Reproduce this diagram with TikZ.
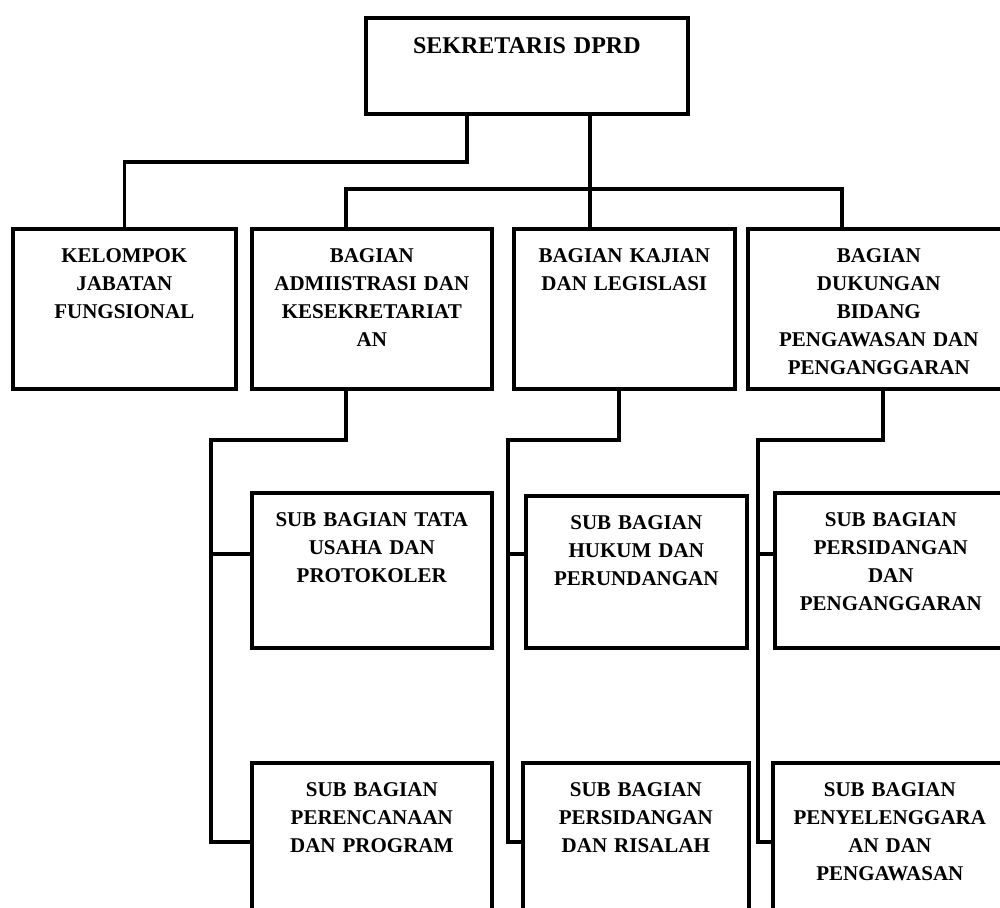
\documentclass[tikz,border=0pt]{standalone}
\usepackage{fontspec}
\setmainfont{Liberation Serif}
\usetikzlibrary{calc}
\tikzset{
  org/box/.style={draw, line width=1.8pt, anchor=north west, align=center,
    inner xsep=2pt, inner ysep=7pt, text height=10pt, text depth=#1,
    font=\fontsize{10.5}{14}\selectfont\bfseries},
  org/box/.default=56pt,
  org/line/.style={draw, line width=1.8pt}
}

\begin{document}
\begin{tikzpicture}[x=0.5pt, y=-0.5pt]
  \clip (0,0) rectangle (1000,907);

  % top and second level
  \node[org/box=23pt, text height=11pt, text width=157pt,
    font=\fontsize{12}{14}\selectfont\bfseries] (sek) at (364,16) {SEKRETARIS DPRD};
  \node[org/box, text width=107.5pt] (kjf) at (11,227) {KELOMPOK\\JABATAN\\FUNGSIONAL};
  \node[org/box, text width=116pt] (adm) at (250,227) {BAGIAN\\ADMIISTRASI DAN\\KESEKRETARIAT\\AN};
  \node[org/box, text width=106.5pt] (kaj) at (512,227) {BAGIAN KAJIAN\\DAN LEGISLASI};
  \node[org/box, text width=127pt] (duk) at (746,227) {BAGIAN\\DUKUNGAN\\BIDANG\\PENGAWASAN DAN\\PENGANGGARAN};

  % sub bagian
  \node[org/box=53.5pt, text width=116pt] (tu) at (250,491) {SUB BAGIAN TATA\\USAHA DAN\\PROTOKOLER};
  \node[org/box=52pt, text width=106.5pt] (huk) at (524,494) {SUB BAGIAN\\HUKUM DAN\\PERUNDANGAN};
  \node[org/box=53.5pt, text width=112pt] (sidang) at (773,491) {SUB BAGIAN\\PERSIDANGAN\\DAN\\PENGANGGARAN};
  \node[org/box=66pt, text width=116pt] (ren) at (250,761) {SUB BAGIAN\\PERENCANAAN\\DAN PROGRAM};
  \node[org/box=66pt, text width=109pt] (ris) at (521,761) {SUB BAGIAN\\PERSIDANGAN\\DAN RISALAH};
  \node[org/box=66pt, text width=113pt] (awas) at (771,761) {SUB BAGIAN\\PENYELENGGARA\\AN DAN\\PENGAWASAN};

  % joints
  \coordinate (j1) at (467,162);
  \coordinate (busL) at (346,189);
  \coordinate (busM) at (590,189);
  \coordinate (busR) at (842,189);
  \coordinate (c1) at (211,440);
  \coordinate (c2) at (508,440);
  \coordinate (c3) at (758,440);
  \coordinate (r1) at (0,554);
  \coordinate (r2) at (0,842);

  \draw[org/line] (sek.south -| j1) -- (j1) -| (kjf.north);
  \draw[org/line] (sek.south -| busM) -- (kaj.north -| busM);
  \draw[org/line] (adm.north -| busL) -- (busL) -- (busR) -- (duk.north -| busR);

  \draw[org/line] (adm.south -| busL) |- (c1) -- (c1 |- r2) -- (ren.west |- r2);
  \draw[org/line] (c1 |- r1) -- (tu.west |- r1);
  \draw[org/line] (kaj.south -| 619,0) |- (c2) -- (c2 |- r2) -- (ris.west |- r2);
  \draw[org/line] (c2 |- r1) -- (huk.west |- r1);
  \draw[org/line] (duk.south -| 883,0) |- (c3) -- (c3 |- r2) -- (awas.west |- r2);
  \draw[org/line] (c3 |- r1) -- (sidang.west |- r1);
\end{tikzpicture}
\end{document}
